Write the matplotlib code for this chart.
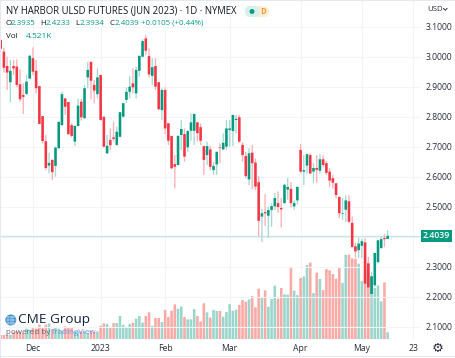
import matplotlib
matplotlib.use("Agg")
import matplotlib.pyplot as plt
from matplotlib.patches import FancyBboxPatch, Rectangle, Ellipse
import numpy as np

opens = [3.057,3.018,2.970,2.916,2.970,2.968,2.909,2.873,2.877,2.928,2.996,2.954,2.903,2.803,2.719,2.638,2.657,2.637,2.696,2.773,
2.862,2.850,2.773,2.718,2.770,2.851,2.796,2.932,2.984,2.907,2.876,2.940,2.801,2.679,2.723,2.732,2.707,2.734,2.801,2.857,
2.884,2.912,2.879,2.954,3.001,3.062,3.003,2.937,2.970,2.916,2.823,2.890,2.779,2.737,2.643,2.640,2.740,2.743,2.699,2.754,
2.754,2.782,2.766,2.703,2.673,2.692,2.623,2.642,2.699,2.692,2.701,2.757,2.753,2.790,2.799,2.707,2.670,2.592,2.681,2.648,
2.583,2.468,2.483,2.471,2.490,2.502,2.513,2.497,2.513,2.558,2.561,2.502,2.522,2.690,2.618,2.638,2.673,2.618,2.630,2.621,
2.659,2.646,2.618,2.596,2.579,2.534,2.478,2.491,2.519,2.447,2.369,2.356,2.371,2.382,2.312,2.210,2.239,2.316,2.363,2.397,2.3935]
highs = [3.057,3.031,3.001,2.990,2.990,2.992,2.960,2.912,2.940,3.007,3.032,2.990,2.903,2.803,2.741,2.681,2.659,2.701,2.784,2.884,
2.862,2.850,2.779,2.773,2.861,2.861,2.907,2.984,2.984,2.923,2.962,2.940,2.801,2.740,2.762,2.784,2.768,2.818,2.846,2.899,
2.937,2.962,2.968,3.004,3.059,3.073,3.029,2.996,2.996,2.916,2.896,2.899,2.779,2.737,2.673,2.739,2.790,2.762,2.757,2.812,
2.812,2.784,2.779,2.703,2.718,2.703,2.650,2.684,2.712,2.746,2.790,2.790,2.807,2.807,2.807,2.716,2.684,2.696,2.707,2.662,
2.603,2.494,2.543,2.501,2.512,2.547,2.552,2.530,2.577,2.597,2.583,2.522,2.569,2.710,2.673,2.679,2.679,2.646,2.673,2.676,
2.673,2.653,2.629,2.607,2.581,2.534,2.530,2.539,2.539,2.469,2.380,2.397,2.394,2.397,2.334,2.284,2.347,2.391,2.402,2.410,2.4233]
lows = [3.027,2.948,2.890,2.849,2.940,2.899,2.851,2.810,2.873,2.927,2.940,2.879,2.777,2.712,2.623,2.612,2.590,2.601,2.693,2.771,
2.807,2.740,2.732,2.703,2.768,2.788,2.793,2.896,2.859,2.846,2.862,2.788,2.699,2.677,2.690,2.718,2.703,2.732,2.799,2.846,
2.862,2.879,2.862,2.934,2.999,3.007,2.934,2.907,2.890,2.823,2.790,2.743,2.707,2.626,2.562,2.638,2.690,2.651,2.684,2.721,
2.707,2.718,2.707,2.607,2.640,2.623,2.607,2.607,2.646,2.690,2.690,2.701,2.703,2.746,2.714,2.651,2.596,2.573,2.559,2.557,
2.402,2.383,2.437,2.397,2.434,2.489,2.480,2.432,2.511,2.524,2.499,2.491,2.508,2.612,2.573,2.612,2.610,2.579,2.581,2.610,
2.632,2.607,2.566,2.562,2.529,2.463,2.457,2.450,2.446,2.363,2.332,2.330,2.330,2.241,2.218,2.152,2.234,2.312,2.361,2.367,2.3934]
closes = [3.027,2.964,2.948,2.954,2.962,2.907,2.859,2.867,2.918,3.004,2.951,2.896,2.777,2.720,2.630,2.647,2.616,2.698,2.784,2.876,
2.834,2.743,2.737,2.770,2.838,2.799,2.896,2.957,2.921,2.888,2.932,2.790,2.701,2.704,2.706,2.727,2.751,2.816,2.846,2.884,
2.901,2.899,2.957,3.004,3.053,3.021,2.942,2.966,2.901,2.826,2.890,2.762,2.721,2.629,2.634,2.737,2.760,2.668,2.753,2.782,
2.810,2.746,2.721,2.657,2.703,2.634,2.637,2.684,2.697,2.714,2.762,2.762,2.807,2.794,2.718,2.673,2.603,2.679,2.646,2.568,
2.454,2.479,2.479,2.490,2.503,2.530,2.500,2.492,2.574,2.567,2.513,2.513,2.567,2.618,2.623,2.676,2.612,2.630,2.624,2.659,
2.640,2.614,2.588,2.581,2.540,2.479,2.480,2.522,2.451,2.367,2.352,2.378,2.386,2.244,2.232,2.269,2.347,2.389,2.393,2.393,2.4039]
volumes_k = [2.7,2.7,2.9,2.9,4.7,5.2,4.7,4.1,7.0,6.3,7.9,7.0,9.7,7.9,9.7,10.6,6.3,7.5,7.0,5.7,
8.6,7.9,7.5,5.2,5.2,5.2,5.2,4.1,5.7,4.7,5.2,9.0,10.6,10.2,8.1,10.8,10.8,15.6,9.7,7.5,
10.2,11.1,13.8,15.6,11.1,15.6,18.1,9.0,14.2,14.2,11.5,19.7,14.9,19.2,23.5,20.6,22.1,14.9,13.3,13.3,
20.3,15.6,11.8,24.2,18.1,14.5,19.7,19.0,19.0,15.1,18.3,23.7,19.2,19.9,23.1,26.4,25.3,26.9,29.2,21.5,
34.1,28.5,33.0,21.9,27.1,36.2,27.3,34.6,30.3,30.1,49.0,32.8,29.8,41.4,42.5,50.2,51.8,31.2,45.0,40.7,
33.2,47.5,46.6,44.1,40.9,48.4,38.0,57.2,57.2,54.7,54.5,51.1,39.3,46.8,51.3,42.3,34.6,36.4,25.5,38.4,4.521]
date_ticks = [10, 31, 51, 71, 93, 112, 128]
date_labels = ["Dec", "2023", "Feb", "Mar", "Apr", "May", "23"]
price_ticks = [2.1, 2.2, 2.3, 2.4, 2.5, 2.6, 2.7, 2.8, 2.9, 3.0, 3.1]
last_price = 2.4039

UP, DOWN = "#089981", "#f23645"
UPW, DOWNW = "#a4dbd2", "#f9b0b6"
UPV, DOWNV = "#9ad6cc", "#f9aaa6"
TXT = "#131722"
FONT = "Open Sans"
plt.rcParams["font.family"] = [FONT, "DejaVu Sans"]

W, H = 456, 358
PLOT_R, PLOT_B = 421, 340
fig = plt.figure(figsize=(W/100, H/100), dpi=100, facecolor="white")
rect = [0, 1 - PLOT_B/H, PLOT_R/W, PLOT_B/H]

x = np.arange(len(opens))
o, hi, lo, c = map(np.array, (opens, highs, lows, closes))
up = c >= o
xlim = (-0.21, (PLOT_R - 0.67)/3.225)

axv = fig.add_axes(rect)
axv.set_xlim(*xlim)
axv.set_ylim(-0.68, 230)
axv.set_xticks(date_ticks)
axv.set_yticks([])
axv.tick_params(length=0, labelbottom=False)
axv.xaxis.grid(True, color="#f3f4f8", lw=0.8)
axv.set_axisbelow(True)
vbars = axv.bar(x, volumes_k, width=0.8, color=[UPV if u else DOWNV for u in up], linewidth=0, zorder=2)
for b in vbars:
    b.set_snap(False)
for s in axv.spines.values():
    s.set_visible(False)

ax = fig.add_axes(rect)
ax.patch.set_alpha(0)
ax.set_xlim(*xlim)
ax.set_ylim(3.19 - PLOT_B/300, 3.19)
ax.set_yticks(price_ticks)
ax.set_xticks([])
ax.yaxis.grid(True, color="#f3f4f8", lw=0.8)
ax.set_axisbelow(True)
ax.yaxis.tick_right()
ax.tick_params(axis="y", length=0, pad=3.6, labelsize=6.2, labelcolor="#2a2e39")
# the 2.4000 label sits under the last-price tag, as in the original
ax.set_yticklabels(["" if p == 2.4 else f"{p:.4f}" for p in price_ticks])
for s in ax.spines.values():
    s.set_visible(False)
ax.axhline(last_price, color="#c8e8e2", lw=1.0, zorder=1.5)
wicks = ax.vlines(x, lo, hi, colors=[UPW if u else DOWNW for u in up], lw=0.95, zorder=3)
wicks.set_snap(False)
bodies = ax.bar(x, np.abs(c - o), bottom=np.minimum(o, c), width=0.8,
                color=[UP if u else DOWN for u in up], linewidth=0, zorder=4)
for b in bodies:
    b.set_snap(False)

# overlay in pixel coordinates for header, labels and logo
ov = fig.add_axes([0, 0, 1, 1])
ov.set_xlim(0, W)
ov.set_ylim(H, 0)
ov.axis("off")
ov.patch.set_alpha(0)

ov.add_patch(Rectangle((0, 0), W, 1.2, color="#e3e8f3", lw=0))
ov.add_patch(Rectangle((0, 0), 1.2, H, color="#e3e8f3", lw=0))
ov.add_patch(Rectangle((0, H-2), W, 1.2, color="#e3e8f3", lw=0))

for i, lab in zip(date_ticks, date_labels):
    ov.text(0.67 + 3.225*i, 348.2, lab, ha="center", va="center", fontsize=6.2, color="#2a2e39")

ov.text(6, 11, "NY HARBOR ULSD FUTURES (JUN 2023) · 1D · NYMEX", fontsize=6.85, color=TXT, va="center")
parts = [("O", TXT, 6), ("2.3935", UP, 11), ("H", TXT, 40), ("2.4233", UP, 45.5), ("L", TXT, 75), ("2.3934", UP, 79.5),
         ("C", TXT, 110), ("2.4039", UP, 115), ("+0.0105 (+0.44%)", UP, 141)]
for t, col, px in parts:
    ov.text(px, 23.5, t, fontsize=5.7, color=col, va="center")
ov.text(6.5, 37, "Vol", fontsize=5.8, color=TXT, va="center")
ov.text(26, 37, "4.521K", fontsize=6.0, color=UP, va="center")

ov.add_patch(FancyBboxPatch((247, 6), 22, 11, boxstyle="round,pad=0,rounding_size=5", fc="#fdeeda", ec="none"))
ov.add_patch(FancyBboxPatch((245, 6), 14, 11, boxstyle="round,pad=0,rounding_size=5", fc="#d8f0ec", ec="none"))
ov.add_patch(Ellipse((252, 11.5), 5, 5, fc=UP, ec="none"))
ov.text(263.5, 11.5, "D", fontsize=5.6, color="#f79a2e", ha="center", va="center", fontweight="bold")

ov.text(427.5, 9.5, "USD", fontsize=5.6, color="#2a2e39", va="center")
ov.plot([443.5, 445.3, 447], [8.5, 10.2, 8.5], color="#2a2e39", lw=0.7)

ov.add_patch(Rectangle((421, 230), 31, 12, fc=UP, ec="none"))
ov.text(436.5, 236, "2.4039", fontsize=6.2, color="white", ha="center", va="center", fontweight="semibold")

ov.text(438, 348, "\u2699", fontsize=9.5, color="#2a2e39", ha="center", va="center", family="DejaVu Sans")

# logo
ov.add_patch(Ellipse((10.8, 320), 11, 11, fc="#2f88cc", ec="none", alpha=0.95))
for dx in (-2.6, 0, 2.6):
    ov.plot([10.8 + dx, 10.8 + dx], [315.5, 324.5], color="white", lw=0.35)
for dy in (-2.6, 0, 2.6):
    ov.plot([6, 15.6], [320 + dy, 320 + dy], color="white", lw=0.35)
ov.text(18.5, 320, "CME Group", fontsize=9.7, color="#12243f", va="center", fontweight="medium")
ov.text(6, 332.3, "powered by", fontsize=5.8, color="#4b5360", va="center", alpha=0.85)
ov.text(50.5, 332.3, "TradingView", fontsize=5.8, color="#5b7fe0", va="center", alpha=0.8)

fig.savefig("out.png", dpi=100)
